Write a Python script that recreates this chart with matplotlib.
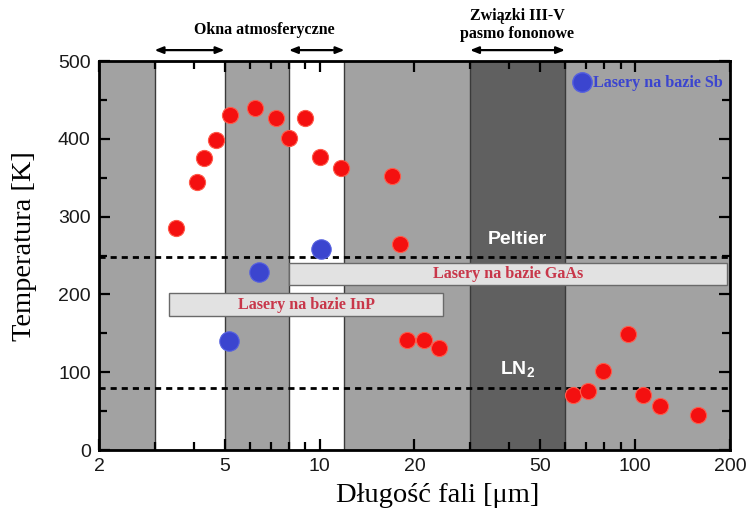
import matplotlib
matplotlib.use("Agg")
import matplotlib.pyplot as plt
from matplotlib.ticker import FixedLocator, NullFormatter
from matplotlib.lines import Line2D
from matplotlib.patches import Rectangle

# --- data ---
red_wavelength = [3.5, 4.1, 4.3, 4.7, 5.2, 6.25, 7.3, 8.0, 9.0, 10.0, 11.7, 17.0, 18.0,
                  19.0, 21.4, 24.0, 63.5, 71.0, 79.0, 95.0, 106.0, 120.0, 158.0]
red_temp = [286, 344, 375, 398, 430, 440, 427, 401, 427, 377, 362, 352, 265,
            141, 142, 131, 71, 76, 102, 149, 71, 57, 45]

blue_wavelength = [5.15, 6.45, 10.1]
blue_temp = [140, 229, 259]

atm_windows = [(3, 5), (8, 12)]        # white bands
phonon_band = (30, 60)                  # dark band
peltier_temp = 248
ln2_temp = 80

gaas_range = (8, 196)
gaas_temp = (212, 241)
inp_range = (3.34, 24.7)
inp_temp = (172, 202)

x_major = [2, 5, 10, 20, 50, 100, 200]
x_minor = [3, 4, 6, 7, 8, 9, 30, 40, 60, 70, 80, 90]
y_major = [0, 100, 200, 300, 400, 500]
y_minor = [50, 150, 250, 350, 450]

plt.rcParams['mathtext.fontset'] = 'custom'
plt.rcParams['mathtext.bf'] = 'Liberation Sans:bold'

fig = plt.figure(figsize=(7.51, 5.14), dpi=100)
ax = fig.add_axes([0.1318, 0.1245, 0.8402, 0.7568])

bg = '#a2a2a2'
ax.set_facecolor(bg)
ax.set_xscale('log')
ax.set_xlim(2, 200)
ax.set_ylim(0, 500)

# bands
for lo, hi in atm_windows:
    ax.axvspan(lo, hi, facecolor='white', edgecolor='#3a3a3a', lw=1.0, zorder=0.5)
ax.axvspan(*phonon_band, facecolor='#606060', edgecolor='#3a3a3a', lw=1.0, zorder=0.5)

# cooling limits
ax.axhline(peltier_temp, color='black', lw=2.0, ls=(0, (2.2, 1.8)), zorder=1)
ax.axhline(ln2_temp, color='black', lw=2.0, ls=(0, (2.2, 1.8)), zorder=1)

# laser family boxes
for (x0, x1), (t0, t1), label in [(gaas_range, gaas_temp, 'Lasery na bazie GaAs'),
                                   (inp_range, inp_temp, 'Lasery na bazie InP')]:
    ax.add_patch(Rectangle((x0, t0), x1 - x0, t1 - t0, facecolor='#e2e2e2',
                           edgecolor='#6a6a6a', lw=1.0, zorder=2))
    ax.text((x0 * x1) ** 0.5, (t0 + t1) / 2, label, ha='center', va='center',
            family='Liberation Serif', fontweight='bold', fontsize=11.6,
            color='#c8374a', zorder=3)

ax.text(42.4, 270, 'Peltier', ha='center', va='center', color='white',
        family='Liberation Sans', fontweight='bold', fontsize=14, zorder=3)
ax.text(42.4, 103, r'LN$_{\mathbf{2}}$', ha='center', va='center', color='white',
        family='Liberation Sans', fontweight='bold', fontsize=14, zorder=3)

ax.scatter(red_wavelength, red_temp, s=135, color='#f41010', edgecolors='#ff5a4a',
           linewidths=0.8, zorder=4)
ax.scatter(blue_wavelength, blue_temp, s=195, color='#3b45cf', edgecolors='#5560e0',
           linewidths=0.8, zorder=4)

sb_handle = Line2D([], [], ls='none', marker='o', markersize=14,
                   markerfacecolor='#3b45cf', markeredgecolor='#5560e0')
ax.legend([sb_handle], ['Lasery na bazie Sb'], loc='center right', frameon=False,
          bbox_to_anchor=(0.989, 0.943), handlelength=1.0, handletextpad=0.2,
          borderpad=0, borderaxespad=0,
          prop={'family': 'Liberation Serif', 'weight': 'bold', 'size': 11.6},
          labelcolor='#3b45cf')

# annotations above the axes
arrow_y = 1.028
for lo, hi in atm_windows + [phonon_band]:
    ax.annotate('', xy=(hi, arrow_y), xytext=(lo, arrow_y),
                xycoords=('data', 'axes fraction'), textcoords=('data', 'axes fraction'),
                arrowprops=dict(arrowstyle='<|-|>,head_length=0.5,head_width=0.2',
                                color='black', lw=1.6, shrinkA=0, shrinkB=0),
                annotation_clip=False)
ax.text(6.7, 1.08, 'Okna atmosferyczne', transform=ax.get_xaxis_transform(),
        ha='center', va='center', family='Liberation Serif', fontweight='bold',
        fontsize=11.5)
ax.text(42.4, 1.0925, 'Związki III-V\npasmo fononowe', transform=ax.get_xaxis_transform(),
        ha='center', va='center', family='Liberation Serif', fontweight='bold',
        fontsize=11.5, linespacing=1.2)

# axes cosmetics
ax.xaxis.set_major_locator(FixedLocator(x_major))
ax.xaxis.set_minor_locator(FixedLocator(x_minor))
ax.xaxis.set_minor_formatter(NullFormatter())
ax.set_xticklabels([str(v) for v in x_major])
ax.yaxis.set_major_locator(FixedLocator(y_major))
ax.yaxis.set_minor_locator(FixedLocator(y_minor))

ax.tick_params(which='both', direction='in', top=True, right=True, width=1.6,
               color='black')
ax.tick_params(which='major', length=8, labelsize=14, pad=6, labelcolor='#1a1a1a')
ax.tick_params(which='minor', length=6)
for lab in ax.get_xticklabels() + ax.get_yticklabels():
    lab.set_family('Liberation Sans')
for sp in ax.spines.values():
    sp.set_linewidth(2.0)
    sp.set_zorder(5)

ax.set_xlabel('Długość fali [μm]', family='Liberation Serif', fontsize=20.5)
ax.xaxis.set_label_coords(0.536, -0.085)
ax.set_ylabel('Temperatura [K]', family='Liberation Serif', fontsize=20.5)
ax.yaxis.set_label_coords(-0.099, 0.524)

fig.savefig('out.png', dpi=100)
